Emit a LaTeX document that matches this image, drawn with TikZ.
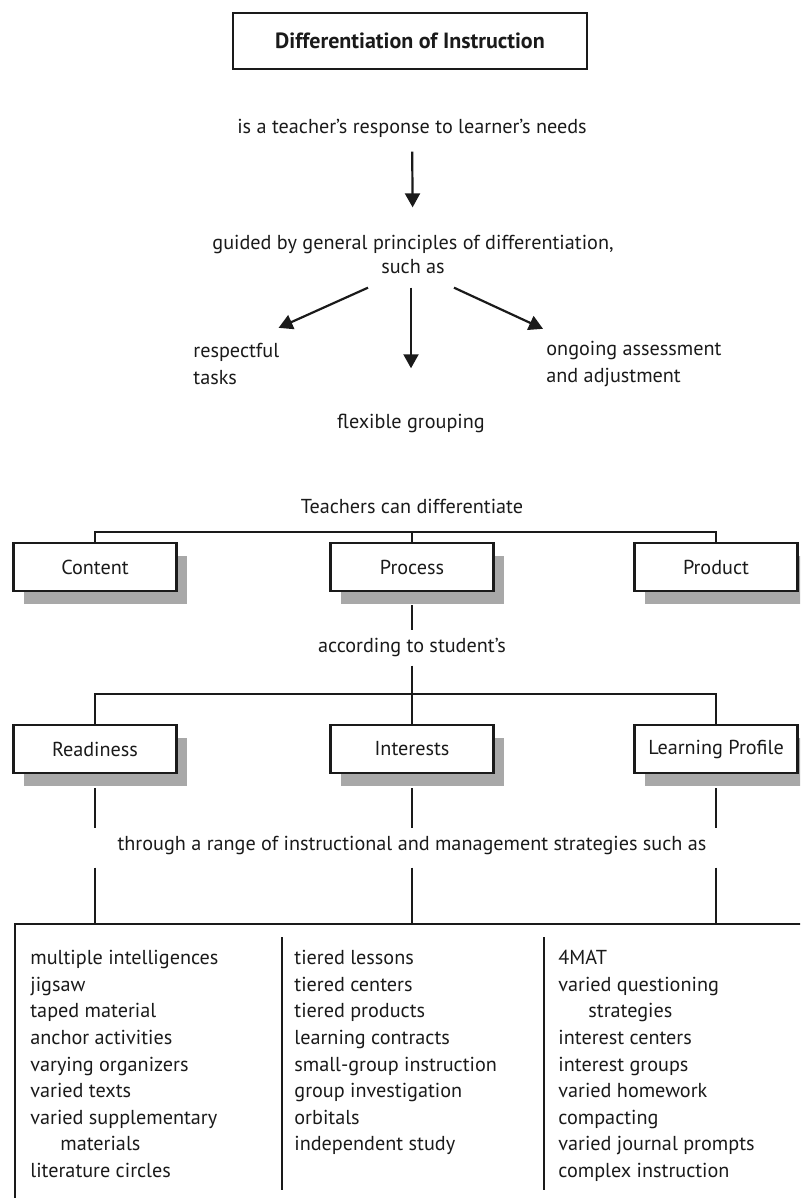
\documentclass[tikz,border=0pt]{standalone}
\usepackage{fontspec}
\setmainfont{PT Sans}
\usetikzlibrary{arrows.meta,positioning,shadows}
\definecolor{diink}{HTML}{1A1A1A}
\definecolor{dishade}{HTML}{A8A8A8}

\begin{document}
\begin{tikzpicture}[
    x=0.5pt, y=-0.5pt,
    every node/.style={text=diink, font=\fontsize{10.1}{12}\selectfont},
    lbl/.style={inner sep=0pt, align=center},
    lst/.style={inner sep=0pt, align=left, anchor=north west,
      font=\fontsize{10.1}{13.3}\selectfont},
    head/.style={draw=diink, line width=1.3pt, minimum width=177pt, minimum height=28pt, font=\bfseries\fontsize{11}{12}\selectfont},
    box/.style={draw=diink, fill=white, line width=1.1pt, minimum width=81.5pt, minimum height=24pt,
      drop shadow={shadow xshift=5pt, shadow yshift=-6.5pt, fill=dishade, opacity=1}},
    link/.style={draw=diink, line width=1.1pt},
    arr/.style={link, -{Triangle[length=7pt,width=7.5pt]}}
  ]
    \useasboundingbox (0,0) rectangle (800,1198);
    \clip (0,0) rectangle (800,1198);

    % principles
    \node[head] (title) at (410,41) {Differentiation of Instruction};
    \node[lbl] (resp) at (412,128) {is a teacher’s response to learner’s needs};
    \node[lbl] (guided) at (413,254) {guided by general principles of differentiation,\\such as};
    \node[lbl, align=left, anchor=west, font=\fontsize{10.1}{13.5}\selectfont] (respect) at (193,364) {respectful\\tasks};
    \node[lbl] (flex) at (411,423) {flexible grouping};
    \node[lbl, align=left, anchor=west, font=\fontsize{10.1}{13.5}\selectfont] (ongoing) at (546,364) {ongoing assessment\\and adjustment};

    \draw[arr, shorten <=7pt, shorten >=13.5pt] (resp) -- (guided);
    \draw[arr] ([xshift=-22.5pt,yshift=-7pt]guided.south) -- ([xshift=-0.5pt,yshift=7.5pt]respect.north east);
    \draw[arr] ([xshift=-1pt,yshift=-7pt]guided.south) -- ([yshift=22.5pt]flex.north);
    \draw[arr] ([xshift=20.5pt,yshift=-7pt]guided.south) -- ([xshift=-1.5pt,yshift=6pt]ongoing.north west);

    % what
    \node[lbl] (teach) at (412,506) {Teachers can differentiate};
    \node[box] (content) at (95,567) {Content};
    \node[box] (process) at (412,567) {Process};
    \node[box] (product) at (716,567) {Product};
    \coordinate (bar1) at (412,532);
    \draw[link] (content.north) |- (bar1) -| (product.north);
    \draw[link] (bar1) -- (process.north);

    % according to
    \node[lbl] (according) at (412,647) {according to student’s};
    \node[box] (readiness) at (95,749) {Readiness};
    \node[box] (interests) at (412,749) {Interests};
    \node[box] (profile) at (716,749) {Learning Profile};
    \draw[link, shorten <=6.5pt, shorten >=3.5pt] (process.south) -- (according.north);
    \coordinate (bar2) at (412,694);
    \draw[link, shorten <=4.5pt] (according.south) -- (bar2);
    \draw[link] (readiness.north) |- (bar2) -| (profile.north);
    \draw[link] (bar2) -- (interests.north);

    % strategies
    \node[lbl] (through) at (412,845) {through a range of instructional and management strategies such as};
    \node[draw=diink, line width=1.1pt, anchor=north west, minimum width=420pt, minimum height=160pt] (strat) at (14,923) {};
    \foreach \b in {readiness, interests, profile} {
      \draw[link, shorten <=7pt, shorten >=3.5pt] (\b.south) -- (\b.south |- through.north);
      \draw[link, shorten <=6.5pt] (\b.south |- through.south) -- (\b.south |- strat.north);
    }
    \draw[link] (282,937) -- (282,1190);
    \draw[link] (544,937) -- (544,1190);

    \node[lst] (col1) at (30,950) {multiple intelligences\\jigsaw\\taped material\\anchor activities\\varying organizers\\varied texts\\varied supplementary\\\hspace*{15pt}materials\\literature circles};
    \node[lst] (col2) at (294,950) {tiered lessons\\tiered centers\\tiered products\\learning contracts\\small-group instruction\\group investigation\\orbitals\\independent study};
    \node[lst] (col3) at (558,950) {4MAT\\varied questioning\\\hspace*{15pt}strategies\\interest centers\\interest groups\\varied homework\\compacting\\varied journal prompts\\complex instruction};
  \end{tikzpicture}
\end{document}
